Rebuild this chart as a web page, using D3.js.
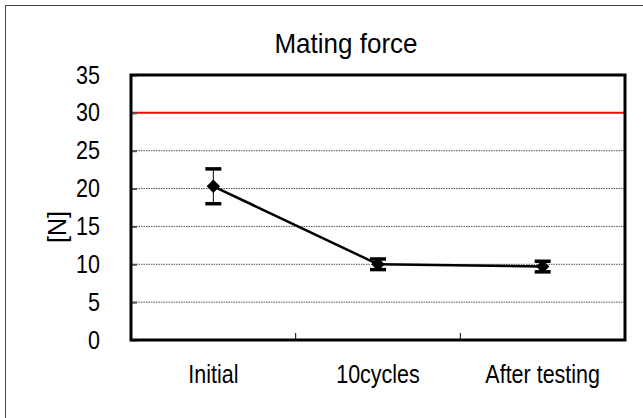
<!DOCTYPE html>
<html>
<head>
<meta charset="utf-8">
<script src="https://cdn.jsdelivr.net/npm/d3@7"></script>
<style>
  body { margin: 0; background: #fff; }
  svg text { font-family: "Liberation Sans", Arial, sans-serif; fill: #000; }
</style>
</head>
<body>
<div id="chart"></div>
<script>
const categories = ["Initial", "10cycles", "After testing"];
const means = [20.3, 10.0, 9.7];
const errors = [2.3, 0.7, 0.7];
const yTicks = [0, 5, 10, 15, 20, 25, 30, 35];
const limit = 30;
const title = "Mating force";
const yLabel = "[N]";

const width = 643, height = 418;
const margin = { top: 75, right: 18, bottom: 78, left: 131 };
const squeeze = 0.86; // the original font is narrower than Liberation Sans

const svg = d3.select("#chart").append("svg")
    .attr("width", width)
    .attr("height", height);

// narrow a text element horizontally while keeping its anchor point
function narrow(sel, k) {
    sel.each(function () {
        const t = d3.select(this);
        const x0 = +t.attr("x") || 0;
        t.attr("x", x0 / k).attr("transform", `scale(${k},1)`);
    });
}

// outer chart frame (right/bottom fall outside the picture)
svg.append("rect")
    .attr("x", 5.5).attr("y", 5.5)
    .attr("width", width).attr("height", height)
    .attr("fill", "none")
    .attr("stroke", "#444")
    .attr("stroke-width", 1);

const x = d3.scaleBand()
    .domain(categories)
    .range([margin.left, width - margin.right]);

const y = d3.scaleLinear()
    .domain([0, 35])
    .range([height - margin.bottom, margin.top]);

const cx = d => x(d) + x.bandwidth() / 2;

// grid lines
svg.append("g")
    .selectAll("line")
    .data(yTicks.filter(t => t > 0 && t < 35 && t !== limit))
    .join("line")
    .attr("x1", margin.left).attr("x2", width - margin.right)
    .attr("y1", d => y(d)).attr("y2", d => y(d))
    .attr("stroke", "#555")
    .attr("stroke-width", 1)
    .attr("stroke-dasharray", "1.5,1");

// reference line at 30
svg.append("line")
    .attr("x1", margin.left).attr("x2", width - margin.right)
    .attr("y1", y(limit)).attr("y2", y(limit))
    .attr("stroke", "#ff0000")
    .attr("stroke-width", 2);

// y axis with inner ticks
svg.append("g")
    .attr("transform", `translate(${margin.left},0)`)
    .call(d3.axisLeft(y).tickValues(yTicks).tickSize(-6).tickPadding(31))
    .call(g => g.select(".domain").remove())
    .call(g => g.selectAll(".tick line").attr("stroke", "#555").attr("stroke-width", 2))
    .call(g => g.selectAll(".tick text").attr("font-size", 25).call(narrow, squeeze));

// x axis: tick marks between categories, pointing inward
svg.append("g")
    .attr("transform", `translate(0,${height - margin.bottom})`)
    .call(d3.axisBottom(x).tickSize(0).tickPadding(25))
    .call(g => g.select(".domain").remove())
    .call(g => g.selectAll(".tick text").attr("font-size", 25).call(narrow, squeeze));

svg.append("g")
    .selectAll("line")
    .data(categories.slice(1))
    .join("line")
    .attr("x1", d => x(d)).attr("x2", d => x(d))
    .attr("y1", height - margin.bottom).attr("y2", height - margin.bottom - 7)
    .attr("stroke", "#000")
    .attr("stroke-width", 1);

// plot frame
svg.append("rect")
    .attr("x", margin.left).attr("y", margin.top)
    .attr("width", width - margin.left - margin.right)
    .attr("height", height - margin.top - margin.bottom)
    .attr("fill", "none")
    .attr("stroke", "#000")
    .attr("stroke-width", 3);

// series line
const line = d3.line()
    .x((d, i) => cx(categories[i]))
    .y(d => y(d));

svg.append("path")
    .attr("d", line(means))
    .attr("fill", "none")
    .attr("stroke", "#000")
    .attr("stroke-width", 2.5);

// error bars
const eb = svg.append("g")
    .selectAll("g")
    .data(means.map((m, i) => ({ c: categories[i], m, e: errors[i] })))
    .join("g");

eb.append("line")
    .attr("x1", d => cx(d.c)).attr("x2", d => cx(d.c))
    .attr("y1", d => y(d.m + d.e)).attr("y2", d => y(d.m - d.e))
    .attr("stroke", "#000").attr("stroke-width", 1);

eb.selectAll("line.cap")
    .data(d => [d.m + d.e, d.m - d.e].map(v => ({ c: d.c, v })))
    .join("line")
    .attr("class", "cap")
    .attr("x1", d => cx(d.c) - 8).attr("x2", d => cx(d.c) + 8)
    .attr("y1", d => y(d.v)).attr("y2", d => y(d.v))
    .attr("stroke", "#000").attr("stroke-width", 3.5);

// diamond markers
svg.append("g")
    .selectAll("path")
    .data(means)
    .join("path")
    .attr("transform", (d, i) => `translate(${cx(categories[i])},${y(d)})`)
    .attr("d", d3.symbol(d3.symbolDiamond2, 115))
    .attr("fill", "#000");

// title
svg.append("text")
    .attr("x", 346).attr("y", 53)
    .attr("text-anchor", "middle")
    .attr("font-size", 28)
    .call(narrow, 0.93)
    .text(title);

// y label
svg.append("text")
    .attr("transform", "translate(66,227) rotate(-90)")
    .attr("text-anchor", "middle")
    .attr("font-size", 25)
    .text(yLabel);
</script>
</body>
</html>
